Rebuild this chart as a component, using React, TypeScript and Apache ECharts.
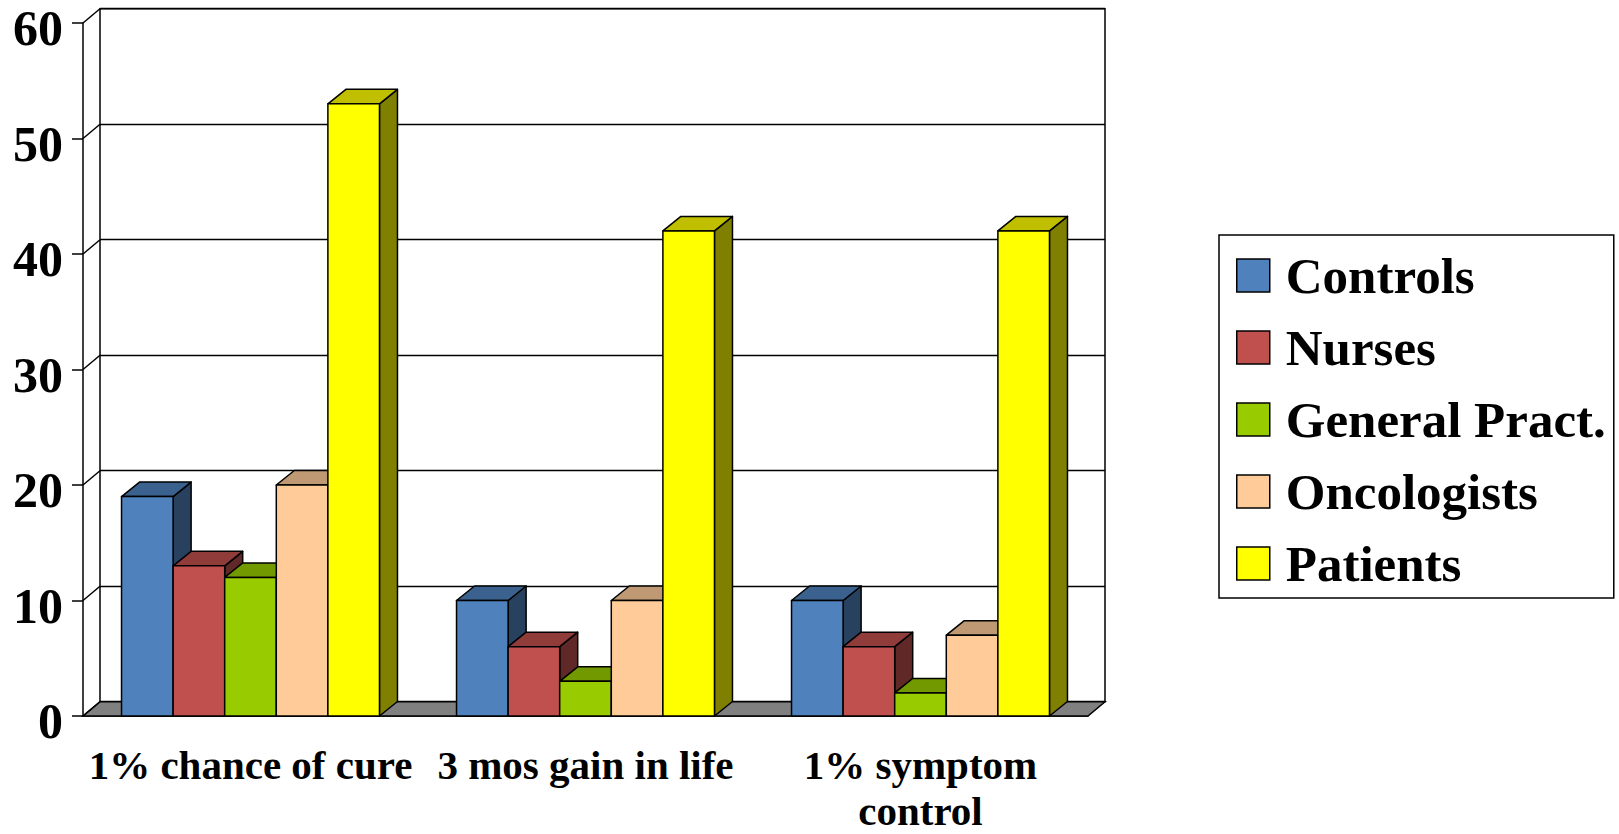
import React, { useEffect, useRef } from "react";
import * as echarts from "echarts";

const categories = ["1% chance of cure", "3 mos gain in life", "1% symptom control"];
const categoryLabelLines = [["1% chance of cure"], ["3 mos gain in life"], ["1% symptom", "control"]];
const seriesNames = ["Controls", "Nurses", "General Pract.", "Oncologists", "Patients"];
const controls = [19, 10, 10];
const nurses = [13, 6, 6];
const generalPract = [12, 3, 2];
const oncologists = [20, 10, 7];
const patients = [53, 42, 42];
const seriesValues = [controls, nurses, generalPract, oncologists, patients];
const yTicks = [0, 10, 20, 30, 40, 50, 60];
const colors = ["#4F81BD", "#C0504D", "#99CC00", "#FFCC99", "#FFFF00"];

const FONT = "'Liberation Serif', 'Times New Roman', serif";
const WALL_DX = 17;
const WALL_DY = -14.3;
const BAR_DX = 18;
const BAR_DY = -14.5;
const GROUP_RATIO = 0.77;

function shade(hex: string, f: number): string {
  const n = parseInt(hex.slice(1), 16);
  const r = Math.round(((n >> 16) & 255) * f);
  const g = Math.round(((n >> 8) & 255) * f);
  const b = Math.round((n & 255) * f);
  return "rgb(" + r + "," + g + "," + b + ")";
}

export default function App() {
  const ref = useRef<HTMLDivElement>(null);
  useEffect(() => {
    if (!ref.current) return;
    const chart = echarts.init(ref.current, undefined, { renderer: "svg" });
    const G = { left: 83, right: 531, top: 23, bottom: 118 };
    const frameSeries: any = {
      type: "custom",
      xAxisIndex: 0,
      yAxisIndex: 0,
      z: 1,
      clip: false,
      silent: true,
      data: yTicks.map((v) => [0, v]),
      encode: { x: 0, y: 1 },
      renderItem: (params: any, api: any) => {
        const cs = params.coordSys;
        const v = api.value(1);
        const y = api.coord([0, v])[1];
        const children: any[] = [];
        if (v === 0) {
          children.push({
            type: "polygon",
            shape: {
              points: [
                [cs.x, y],
                [cs.x + cs.width, y],
                [cs.x + cs.width + WALL_DX, y + WALL_DY],
                [cs.x + WALL_DX, y + WALL_DY],
              ],
            },
            style: { fill: "#808080", stroke: "#000", lineWidth: 1.5 },
          });
        }
        children.push({
          type: "line",
          shape: { x1: cs.x, y1: y, x2: cs.x + WALL_DX, y2: y + WALL_DY },
          style: { stroke: "#000", lineWidth: 1.5 },
        });
        return { type: "group", children };
      },
    };
    const barSeries = seriesNames.map((name, s) => ({
      type: "custom",
      name,
      xAxisIndex: 0,
      yAxisIndex: 0,
      z: 3 + s,
      clip: false,
      itemStyle: { color: colors[s] },
      encode: { x: 0, y: 1 },
      data: seriesValues[s].map((v, i) => [i, v]),
      renderItem: (params: any, api: any) => {
        const c = api.value(0);
        const v = api.value(1);
        const top = api.coord([c, v]);
        const base = api.coord([c, 0]);
        const catW = api.size([1, 0])[0];
        const groupW = catW * GROUP_RATIO;
        const bw = groupW / seriesNames.length;
        const x0 = top[0] - groupW / 2 + s * bw;
        const x1 = x0 + bw;
        const yt = top[1];
        const yb = base[1];
        const stroke = { stroke: "#000", lineWidth: 1.5, lineJoin: "round" };
        return {
          type: "group",
          children: [
            {
              type: "polygon",
              shape: {
                points: [
                  [x1, yb],
                  [x1, yt],
                  [x1 + BAR_DX, yt + BAR_DY],
                  [x1 + BAR_DX, yb + BAR_DY],
                ],
              },
              style: { fill: shade(colors[s], 0.5), ...stroke },
            },
            {
              type: "polygon",
              shape: {
                points: [
                  [x0, yt],
                  [x1, yt],
                  [x1 + BAR_DX, yt + BAR_DY],
                  [x0 + BAR_DX, yt + BAR_DY],
                ],
              },
              style: { fill: shade(colors[s], 0.75), ...stroke },
            },
            {
              type: "rect",
              shape: { x: x0, y: yt, width: bw, height: yb - yt },
              style: { fill: colors[s], ...stroke },
            },
          ],
        };
      },
    }));
    const labelText = { fontSize: 41, fontWeight: "bold", fontFamily: FONT, color: "#000" };
    chart.setOption({
      animation: false,
      backgroundColor: "#fff",
      grid: [
        { ...G, outerBoundsMode: "none", containLabel: false },
        {
          left: G.left + WALL_DX,
          right: G.right - WALL_DX,
          top: G.top + WALL_DY,
          bottom: G.bottom - WALL_DY,
          outerBoundsMode: "none",
          containLabel: false,
          show: true,
          borderColor: "#000",
          borderWidth: 1.5,
          backgroundColor: "transparent",
        },
      ],
      legend: {
        data: seriesNames,
        orient: "vertical",
        left: 1219,
        top: 235,
        padding: [15, 8, 9, 17],
        itemWidth: 33,
        itemHeight: 33,
        itemGap: 21,
        icon: "rect",
        backgroundColor: "#fff",
        borderColor: "#000",
        borderWidth: 1.5,
        selectedMode: false,
        itemStyle: { borderColor: "#000", borderWidth: 1.5 },
        textStyle: {
          fontSize: 51,
          fontWeight: "bold",
          fontFamily: FONT,
          color: "#000",
          padding: [0, 0, 0, 11],
        },
      },
      xAxis: [
        {
          type: "category",
          gridIndex: 0,
          data: categories,
          axisLine: { lineStyle: { color: "#000", width: 1.5 } },
          axisTick: { length: 10, lineStyle: { color: "#000", width: 1.5 } },
          axisLabel: {
            interval: 0,
            formatter: (_v: string, i: number) =>
              categoryLabelLines[i].map((t, k) => "{" + (k === 0 ? "l1" : "l2") + "|" + t + "}").join("\n"),
            ...labelText,
            margin: 18,
            rich: {
              l1: { ...labelText, lineHeight: 62 },
              l2: { ...labelText, lineHeight: 30 },
            },
          },
          splitLine: { show: false },
        },
        { type: "value", gridIndex: 1, show: false },
      ],
      yAxis: [
        {
          type: "value",
          gridIndex: 0,
          min: 0,
          max: 60,
          interval: 10,
          axisLine: { show: true, lineStyle: { color: "#000", width: 1.5 } },
          axisTick: { show: true, length: 11, lineStyle: { color: "#000", width: 1.5 } },
          axisLabel: {
            fontSize: 50,
            lineHeight: 10,
            verticalAlign: "top",
            fontWeight: "bold",
            fontFamily: FONT,
            color: "#000",
            margin: 20,
          },
          splitLine: { show: false },
        },
        {
          type: "value",
          gridIndex: 1,
          min: 0,
          max: 60,
          interval: 10,
          axisLine: { show: false },
          axisTick: { show: false },
          axisLabel: { show: false },
          splitLine: { show: true, lineStyle: { color: "#000", width: 1.3 } },
        },
      ],
      series: [frameSeries, ...barSeries],
    });
    return () => chart.dispose();
  }, []);
  return (
    <div
      ref={ref}
      style={{ position: "fixed", left: 0, top: 0, width: "1619px", height: "834px", background: "#fff" }}
    />
  );
}
